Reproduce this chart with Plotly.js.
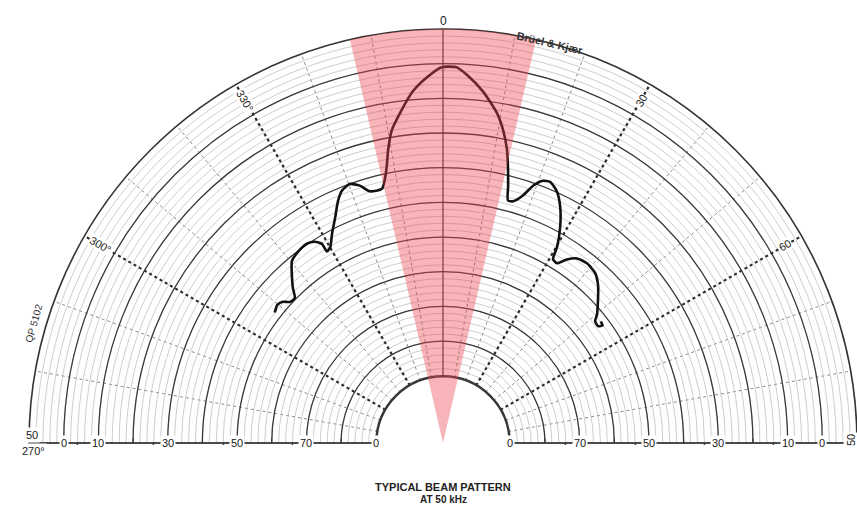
<!DOCTYPE html>
<html>
<head>
<meta charset="utf-8">
<script src="https://cdn.plot.ly/plotly-3.0.1.min.js"></script>
<style>html,body{margin:0;padding:0;background:#fff;}#chart{width:857px;height:512px;}</style>
</head>
<body>
<div id="chart"></div>
<script>
// ---- data (beam pattern at 50 kHz) ----
const thetaDeg = [-52.2,-50.2,-48.6,-47.3,-45.6,-44.1,-42.1,-39.7,-37.2,-34.3,-32.5,-31.3,-31.2,-29.9,-28.0,-25.6,-23.5,-21.8,-19.8,-17.9,-16.2,-13.5,-12.4,-11.5,-10.6,-9.3,-7.4,-4.9,-2.5,-0.2,2.1,3.7,6.5,9.3,10.9,12.3,13.2,14.2,15.0,16.2,17.9,19.3,20.7,22.3,24.4,26.5,28.5,30.2,30.9,32.4,34.0,36.0,38.7,41.8,44.5,47.7,50.2,51.3,53.0,53.6,52.4];
const levelDb  = [-29.0,-28.6,-28.9,-29.7,-29.8,-28.6,-27.2,-25.6,-25.1,-24.9,-25.3,-26.1,-27.4,-27.1,-25.6,-23.7,-21.7,-20.5,-20.0,-20.7,-21.9,-22.0,-20.7,-19.0,-16.7,-14.0,-11.7,-8.8,-6.9,-5.5,-5.5,-6.5,-8.7,-11.5,-13.8,-16.4,-18.7,-21.4,-23.5,-23.4,-22.2,-20.4,-19.3,-19.0,-19.9,-21.8,-24.3,-27.0,-28.8,-29.0,-27.8,-26.8,-26.5,-26.8,-27.8,-29.5,-30.8,-31.6,-31.7,-31.1,-31.0];
const highlightTheta = [0];       // centre of the shaded main-lobe sector
const highlightWidth = [26];      // degrees
const angularMajorTicks = [-60, -30, 30, 60];
const angularMajorText  = ['300°', '330°', '30', '60'];
const leftScaleLevels  = [-5, -10, -20, -30, -40, -50];
const leftScaleText    = ['0', '10', '30', '50', '70', '0'];
const rightScaleLevels = [-50, -40, -30, -20, -10, -5];
const rightScaleText   = ['0', '70', '50', '30', '10', '0'];
const leftDotLevels  = [-7, -18, -28, -38];
const rightDotLevels = [-42, -32, -22, -12];

// ---- geometry ----
const W = 857, H = 512, CX = 443, CY = 443, R = 414;
const HOLE = 0.16, RMIN = -50.15, RMAX = 0;
const domain = {x: [(CX - R) / W, Math.min(1, (CX + R) / W)], y: [(H - CY) / H, (H - CY + R) / H]};

const minorLevels = []; for (let v = -50; v <= 0; v += 1) minorLevels.push(v);
const majorLevels = []; for (let v = -50; v <= 0; v += 5) majorLevels.push(v);
const minorSpokes = []; for (let a = -80; a <= 80; a += 10) { if (a % 30 === 0) continue; minorSpokes.push(a); }

function basePolar(extra) {
  const p = {
    domain: domain, sector: [0, 180], hole: HOLE, bgcolor: 'rgba(0,0,0,0)',
    radialaxis: {range: [RMIN, RMAX], showline: false, showticklabels: false, ticks: '', showgrid: false, visible: true},
    angularaxis: {rotation: 90, direction: 'clockwise', showline: false, showticklabels: false, ticks: '', showgrid: false}
  };
  if (extra) {
    if (extra.radialaxis) Object.assign(p.radialaxis, extra.radialaxis);
    if (extra.angularaxis) Object.assign(p.angularaxis, extra.angularaxis);
    for (const k in extra) if (k !== 'radialaxis' && k !== 'angularaxis') p[k] = extra[k];
  }
  return p;
}

function rFrac(v) { return HOLE + (1 - HOLE) * (v - RMIN) / (RMAX - RMIN); }
function pos(th, frac) {
  const t = th * Math.PI / 180;
  return {x: (CX + R * frac * Math.sin(t)) / W, y: (H - CY + R * frac * Math.cos(t)) / H};
}

const FONT = 'Liberation Sans, Arial, sans-serif';
const ann = [];
function addText(text, th, frac, opts) {
  const p = pos(th, frac);
  ann.push(Object.assign({text: text, x: p.x, y: p.y, xref: 'paper', yref: 'paper', showarrow: false,
    xanchor: 'center', yanchor: 'middle', font: {family: FONT, size: 11, color: '#1a1a1a'}}, opts || {}));
}

// angular labels at the outer ends of the main spokes
const labelAngles = {'-60': 30, '-30': 60, '30': -60, '60': -30};
angularMajorTicks.forEach((a, i) => addText(angularMajorText[i], a, 0.955,
  {textangle: labelAngles[String(a)], bgcolor: '#fff', borderpad: 0}));
addText('0', 0, 1.02, {font: {family: FONT, size: 12, color: '#1a1a1a'}});

// baseline scale labels
const lab = {bgcolor: '#fff', borderpad: 1};
leftScaleLevels.forEach((v, i) => addText(leftScaleText[i], -90, rFrac(v), lab));
rightScaleLevels.forEach((v, i) => addText(rightScaleText[i], 90, rFrac(v), lab));
leftDotLevels.forEach(v => addText('·', -90, rFrac(v), {font: {family: FONT, size: 14, color: '#333'}}));
rightDotLevels.forEach(v => addText('·', 90, rFrac(v), {font: {family: FONT, size: 14, color: '#333'}}));
addText('50', -90, 1.0, {yshift: 8, xshift: 3, bgcolor: '#fff'});
addText('270°', -90, 1.0, {yshift: -8, xshift: 4, bgcolor: '#fff'});
addText('50', 90, 1.0, {xshift: -6, yshift: 3, textangle: -90, bgcolor: '#fff'});

// misc texts
addText('QP 5102', -73.7, 1.03, {textangle: -74, font: {family: FONT, size: 10, color: '#333'}});
ann.push({text: '<b>Brüel & Kjær</b>', x: 550 / W, y: (H - 27) / H, xref: 'paper', yref: 'paper', showarrow: false,
  textangle: 13, font: {family: FONT, size: 11, color: '#333'}});
ann.push({text: '<b>TYPICAL BEAM PATTERN</b>', x: CX / W, y: (H - 495) / H, xref: 'paper', yref: 'paper', showarrow: false,
  font: {family: FONT, size: 11, color: '#222'}});
ann.push({text: '<b>AT 50 kHz</b>', x: CX / W, y: (H - 507) / H, xref: 'paper', yref: 'paper', showarrow: false,
  font: {family: FONT, size: 10, color: '#222'}});

const traces = [
  {type: 'scatterpolar', subplot: 'polar',  r: [], theta: [], showlegend: false, hoverinfo: 'skip'},
  {type: 'scatterpolar', subplot: 'polar2', r: [], theta: [], showlegend: false, hoverinfo: 'skip'},
  {type: 'scatterpolar', subplot: 'polar3', r: [], theta: [], showlegend: false, hoverinfo: 'skip'},
  {type: 'scatterpolar', subplot: 'polar4', r: [], theta: [], showlegend: false, hoverinfo: 'skip'},
  {type: 'scatterpolar', subplot: 'polar5', r: levelDb, theta: thetaDeg, mode: 'lines',
    line: {color: '#111', width: 2.6, shape: 'spline', smoothing: 0.6}, showlegend: false, hoverinfo: 'skip'},
  {type: 'barpolar', subplot: 'polar6', r: highlightTheta.map(() => 1), theta: highlightTheta, width: highlightWidth, base: 0,
    marker: {color: 'rgba(235,70,80,0.40)', line: {width: 0}}, showlegend: false, hoverinfo: 'skip'}
];

const layout = {
  width: W, height: H, margin: {l: 0, r: 0, t: 0, b: 0}, paper_bgcolor: '#fff', showlegend: false,
  polar: basePolar({bgcolor: '#fff',
    radialaxis: {showgrid: true, tickvals: minorLevels, gridcolor: '#b8b8b8', gridwidth: 0.7},
    angularaxis: {showgrid: true, tickvals: minorSpokes, gridcolor: '#8a8a8a', gridwidth: 1, griddash: 'dot'}}),
  polar2: basePolar({
    radialaxis: {showgrid: true, tickvals: majorLevels, gridcolor: '#3a3a3a', gridwidth: 1.3},
    angularaxis: {showgrid: true, tickvals: angularMajorTicks, gridcolor: '#2a2a2a', gridwidth: 2.2, griddash: 'dot'}}),
  polar3: basePolar({radialaxis: {angle: 180, showline: true, linecolor: '#333', linewidth: 1.2,
    tickvals: [-45, -35, -25, -15], ticks: 'outside', ticklen: 4, tickcolor: '#333', side: 'clockwise'}}),
  polar4: basePolar({radialaxis: {angle: 0, showline: true, linecolor: '#333', linewidth: 1.2,
    tickvals: [-45, -35, -25, -15], ticks: 'outside', ticklen: 4, tickcolor: '#333', side: 'counterclockwise'}}),
  polar5: basePolar({radialaxis: {angle: 90, showline: true, linecolor: '#333', linewidth: 1.2},
    angularaxis: {showline: true, linecolor: '#333', linewidth: 1.6}}),
  polar6: basePolar({hole: 0, radialaxis: {range: [0, 1], visible: false}, angularaxis: {visible: false}}),
  annotations: ann
};

Plotly.newPlot('chart', traces, layout, {staticPlot: true, displayModeBar: false});
</script>
</body>
</html>
